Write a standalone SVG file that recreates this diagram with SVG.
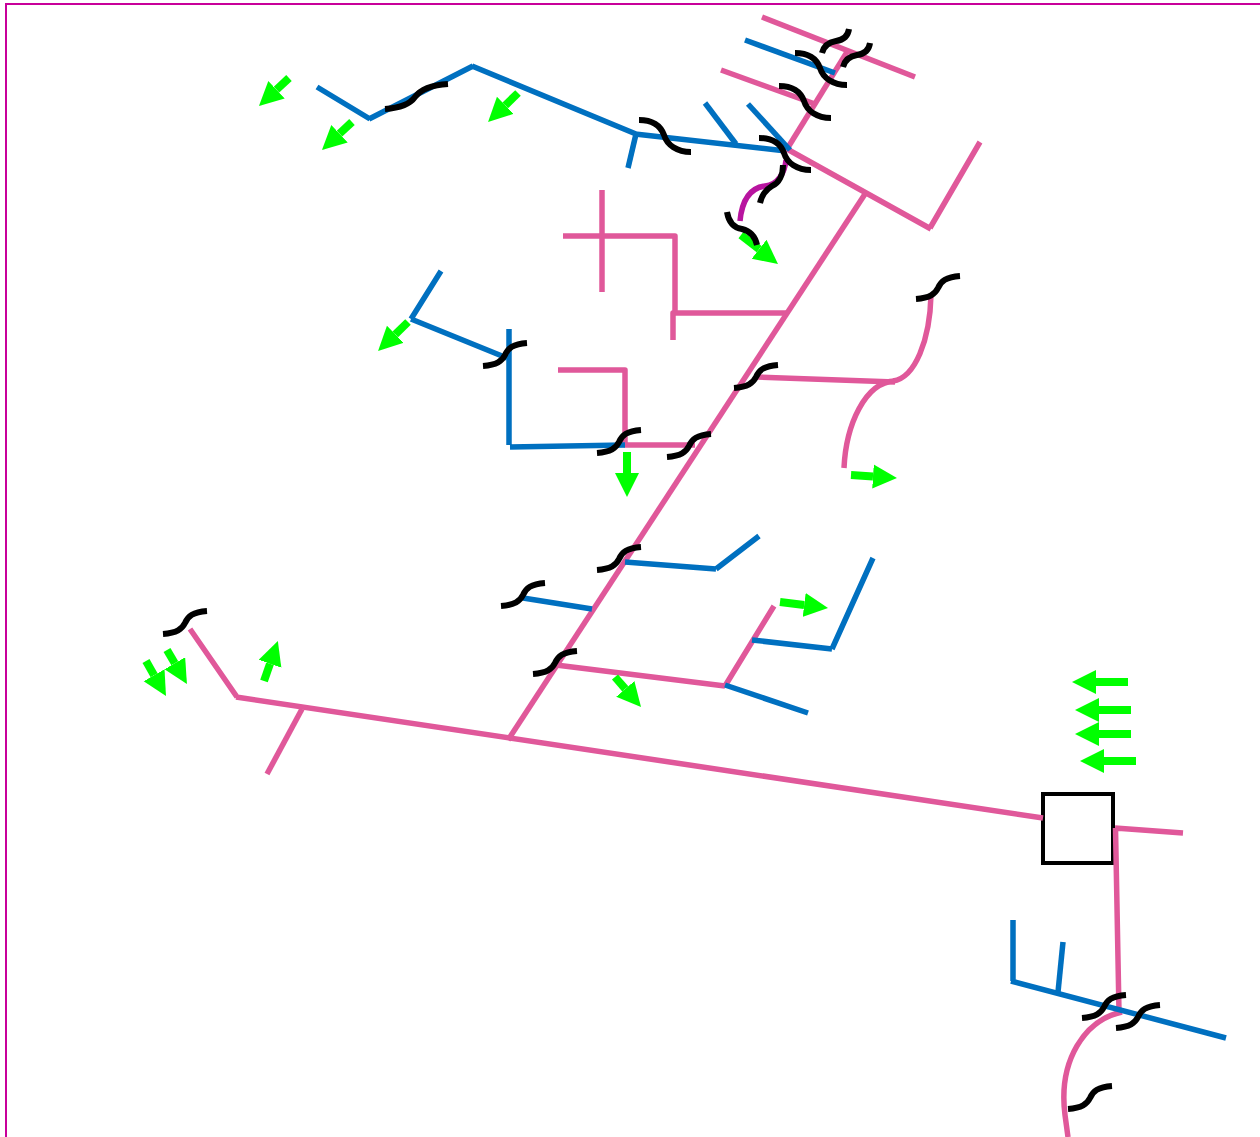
<svg xmlns="http://www.w3.org/2000/svg" width="1260" height="1137" viewBox="0 0 1260 1137">
<style>
.p{fill:none;stroke:#e0589a;stroke-width:5.500;stroke-linejoin:round}
.b{fill:none;stroke:#0070c0;stroke-width:5.500;stroke-linejoin:round}
.m{fill:none;stroke:#b8149f;stroke-width:5.500}
.j{fill:none;stroke:#000;stroke-width:6}
.a{fill:none;stroke:#00ff00;stroke-width:8;marker-end:url(#head)}
</style>
<defs>
<marker id="head" markerUnits="userSpaceOnUse" markerWidth="26" markerHeight="26" refX="0" refY="12" orient="auto"><path d="M0 0L24 12L0 24Z" fill="#00ff00"/></marker>
<path id="sa" class="j" d="M0 0C14 -1 19 -5 22 -11C25 -18 30 -22 44 -23"/>
<path id="sd" class="j" d="M0 0C15 0 22 7 25 15C28 25 38 32 52 32"/>
</defs>
<rect id="frame" x="6" y="4" width="1256" height="1140" fill="#fff" stroke="#c8009a" stroke-width="2"/>
<g id="node-box"><rect x="1043" y="794" width="70" height="69" fill="#fff" stroke="#000" stroke-width="4"/></g>
<g id="connectors">
<path class="p" d="M508 740L865 194"/>
<path class="p" d="M190 629L237 697M236 697L1043 818"/>
<path class="p" d="M302 709L267 774"/>
<path class="p" d="M787 149L931 229M930 228L980 142"/>
<path class="p" d="M787 149L847 52"/>
<path class="p" d="M762 17L915 77"/>
<path class="p" d="M721 70L815 104"/>
<path class="b" d="M745 40L835 73"/>
<path class="b" d="M317 87L370 119M369 119L473 66M472 66L636 134M635 134L786 151"/>
<path class="b" d="M636 134L628 168"/>
<path class="b" d="M705 103L736 144"/>
<path class="b" d="M748 104L790 150"/>
<path class="m" d="M740 221C742 200 750 188 765 186C778 185 785 172 786 160"/>
<path class="p" d="M602 190V292"/>
<path class="p" d="M563 236H675V313"/>
<path class="p" d="M673 340V313H787"/>
<path class="p" d="M757 377L895 382"/>
<path class="p" d="M893 381C915 378 930 340 931 295"/>
<path class="p" d="M895 381C865 382 846 425 844 468"/>
<path class="p" d="M558 370H625V445H695"/>
<path class="b" d="M441 271L411 319M411 319L507 358"/>
<path class="b" d="M509 329V445M510 447L625 445"/>
<path class="b" d="M625 562L716 569M716 569L759 536"/>
<path class="b" d="M523 598L592 609"/>
<path class="p" d="M556 665L725 686M725 686L774 606"/>
<path class="b" d="M725 685L808 713"/>
<path class="b" d="M752 640L832 649M832 649L873 558"/>
<path class="p" d="M1183 833L1115 828M1115.500 828L1119 1012"/>
<path class="p" d="M1122 1012C1085 1020 1058 1060 1065 1115L1068 1137"/>
<path class="b" d="M1013 920V981M1011 981L1226 1038"/>
<path class="b" d="M1063 942L1058 992"/>
</g>
<g id="arrows">
<path class="a" d="M289 78L276.500 89.700"/>
<path class="a" d="M352 122L339.500 133.700"/>
<path class="a" d="M518 93L505.300 105.300"/>
<path class="a" d="M741 235L759.100 249.200"/>
<path class="a" d="M408 322L395.300 334.300"/>
<path class="a" d="M627 452V473"/>
<path class="a" d="M851 475L873 476.400"/>
<path class="a" d="M780 602L804.200 605"/>
<path class="a" d="M615 677L625.300 688.900"/>
<path class="a" d="M264 681L270 663.700"/>
<path class="a" d="M146 661L154.100 675.200"/>
<path class="a" d="M167 650L174.800 663.300"/>
<path class="a" d="M1128 682H1096"/>
<path class="a" d="M1131 710H1099"/>
<path class="a" d="M1131 734H1099"/>
<path class="a" d="M1136 761H1104"/>
</g>
<g id="jumps">
<use href="#sa" x="163" y="634"/>
<path class="j" d="M385 109C400 108 410 104 415 97C421 89 432 85 448 84"/>
<use href="#sa" x="483" y="366"/>
<use href="#sa" x="597" y="453"/>
<use href="#sa" x="667" y="457"/>
<use href="#sa" x="734" y="388"/>
<use href="#sa" x="597" y="570"/>
<use href="#sa" x="501" y="606"/>
<use href="#sa" x="533" y="674"/>
<use href="#sa" x="916" y="299"/>
<use href="#sa" x="1082" y="1018"/>
<use href="#sa" x="1116" y="1028"/>
<use href="#sa" x="1068" y="1109"/>
<path class="j" d="M822 53C824 45 830 42 836 41C843 40 848 36 849 29"/>
<path class="j" d="M843 67C845 59 851 56 857 55C864 54 869 50 870 43"/>
<path class="j" d="M760 203C762 194 767 189 772 186C779 183 783 175 783 165"/>
<use href="#sd" x="795" y="53"/>
<use href="#sd" x="779" y="86"/>
<use href="#sd" x="759" y="138"/>
<use href="#sd" x="639" y="120"/>
<path class="j" d="M727 212C729 224 735 228 742 229C750 231 755 236 757 245"/>
</g>
</svg>
